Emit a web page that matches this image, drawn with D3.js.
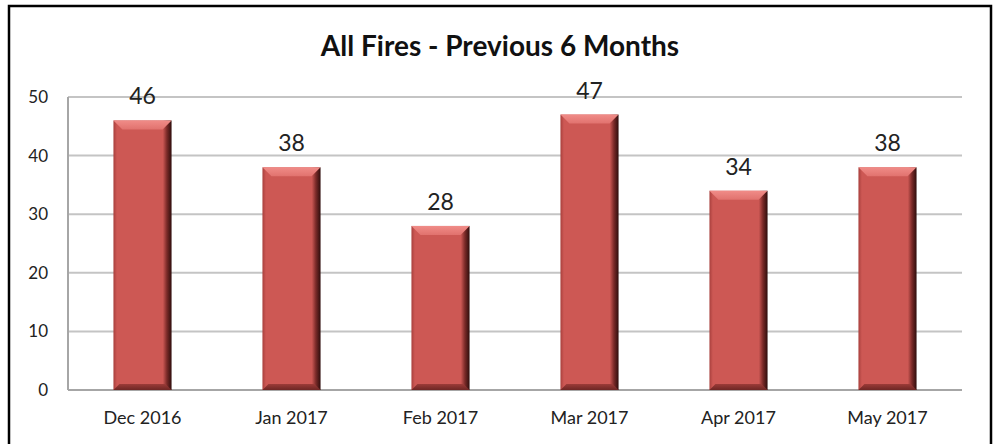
<!DOCTYPE html>
<html>
<head>
<meta charset="utf-8">
<script src="https://cdn.jsdelivr.net/npm/d3@7"></script>
<style>
  body { margin: 0; padding: 0; background: #fff; }
  svg text { font-family: Lato, "Open Sans", sans-serif; fill: #222; }
</style>
</head>
<body>
<script>
// chart data
var months = ["Dec 2016", "Jan 2017", "Feb 2017", "Mar 2017", "Apr 2017", "May 2017"];
var fires = [46, 38, 28, 47, 34, 38];
var yTicks = [0, 10, 20, 30, 40, 50];
var title = "All Fires - Previous 6 Months";

var W = 999, H = 444;
var m = {left: 68, right: 37, top: 97, bottom: 54};

var svg = d3.select("body").append("svg")
    .attr("width", W)
    .attr("height", H);

var defs = svg.append("defs");
var g1 = defs.append("linearGradient").attr("id", "sideShade")
    .attr("x1", 0).attr("x2", 1).attr("y1", 0).attr("y2", 0);
g1.append("stop").attr("offset", 0).attr("stop-color", "#a8403d");
g1.append("stop").attr("offset", 0.06).attr("stop-color", "#cd5854");
g1.append("stop").attr("offset", 0.85).attr("stop-color", "#cd5854");
g1.append("stop").attr("offset", 0.92).attr("stop-color", "#7a2a28");
g1.append("stop").attr("offset", 1).attr("stop-color", "#2e0d0c");

var g2 = defs.append("linearGradient").attr("id", "topShade")
    .attr("x1", 0).attr("x2", 0).attr("y1", 0).attr("y2", 1);
g2.append("stop").attr("offset", 0).attr("stop-color", "#f08c88");
g2.append("stop").attr("offset", 1).attr("stop-color", "#e1726e");

var g3 = defs.append("linearGradient").attr("id", "botShade")
    .attr("x1", 0).attr("x2", 0).attr("y1", 0).attr("y2", 1);
g3.append("stop").attr("offset", 0).attr("stop-color", "#9c3b38");
g3.append("stop").attr("offset", 1).attr("stop-color", "#6e2624");

// outer border
svg.append("rect")
    .attr("x", 9).attr("y", 6)
    .attr("width", 982).attr("height", 450)
    .attr("fill", "none")
    .attr("stroke", "#000")
    .attr("stroke-width", 2.5);

var x = d3.scaleBand()
    .domain(months)
    .range([m.left, W - m.right])
    .paddingInner(0.61)
    .paddingOuter(0.305);

var y = d3.scaleLinear()
    .domain([0, 50])
    .range([H - m.bottom, m.top]);

// gridlines
svg.append("g").selectAll("line")
    .data(yTicks)
    .enter().append("line")
    .attr("x1", m.left).attr("x2", W - m.right)
    .attr("y1", function(d) { return y(d); })
    .attr("y2", function(d) { return y(d); })
    .attr("stroke", function(d) { return d === 0 ? "#a6a6a6" : "#c4c4c4"; })
    .attr("stroke-width", 2);

// y axis line
svg.append("line")
    .attr("x1", m.left).attr("x2", m.left)
    .attr("y1", y(50)).attr("y2", y(0))
    .attr("stroke", "#a6a6a6").attr("stroke-width", 2);

// y tick labels
svg.append("g").selectAll("text")
    .data(yTicks)
    .enter().append("text")
    .attr("x", 48)
    .attr("y", function(d) { return y(d) + 6; })
    .attr("text-anchor", "end")
    .style("font-size", "17px")
    .text(function(d) { return d; });

// bars
var bars = svg.append("g").selectAll("g")
    .data(fires)
    .enter().append("g");

var bw = x.bandwidth();
var bev = 9;

bars.append("rect")
    .attr("x", function(d, i) { return x(months[i]); })
    .attr("y", function(d) { return y(d); })
    .attr("width", bw)
    .attr("height", function(d) { return y(0) - y(d); })
    .attr("fill", "url(#sideShade)");

// top bevel
bars.append("path")
    .attr("d", function(d, i) {
      var x0 = x(months[i]), t = y(d);
      return "M" + x0 + "," + t + "L" + (x0 + bw) + "," + t +
        "L" + (x0 + bw - bev) + "," + (t + bev) + "L" + (x0 + bev) + "," + (t + bev) + "Z";
    })
    .attr("fill", "url(#topShade)");

// bottom bevel
bars.append("path")
    .attr("d", function(d, i) {
      var x0 = x(months[i]), b = y(0);
      return "M" + x0 + "," + b + "L" + (x0 + bw) + "," + b +
        "L" + (x0 + bw - 6) + "," + (b - 6) + "L" + (x0 + 6) + "," + (b - 6) + "Z";
    })
    .attr("fill", "url(#botShade)");

// value labels
svg.append("g").selectAll("text")
    .data(fires)
    .enter().append("text")
    .attr("x", function(d, i) { return x(months[i]) + bw / 2; })
    .attr("y", function(d) { return y(d) - 16; })
    .attr("text-anchor", "middle")
    .style("font-size", "23px")
    .text(function(d) { return d; });

// x labels
svg.append("g").selectAll("text")
    .data(months)
    .enter().append("text")
    .attr("x", function(d) { return x(d) + bw / 2; })
    .attr("y", 424)
    .attr("text-anchor", "middle")
    .style("font-size", "18px")
    .text(function(d) { return d; });

// title
svg.append("text")
    .attr("x", 500)
    .attr("y", 56)
    .attr("text-anchor", "middle")
    .style("font-size", "28px")
    .style("font-weight", "bold")
    .style("fill", "#111")
    .text(title);
</script>
</body>
</html>
